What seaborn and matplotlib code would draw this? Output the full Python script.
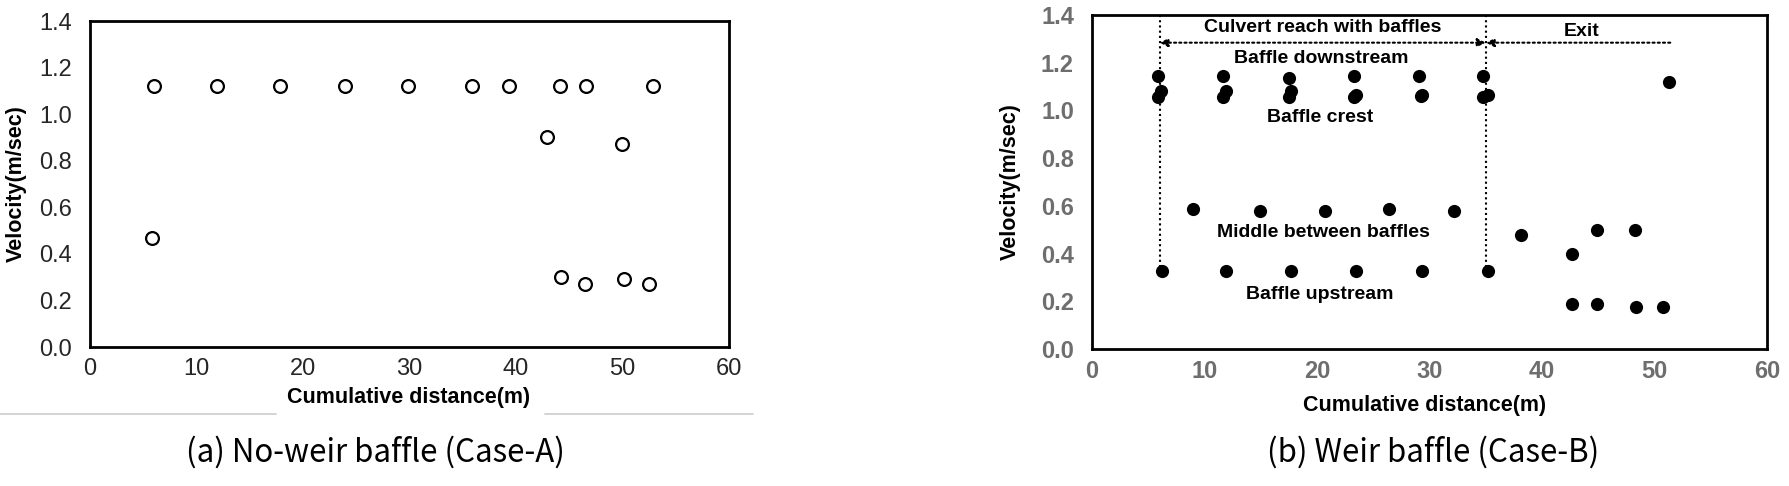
import pandas as pd
import matplotlib.pyplot as plt
import seaborn as sns
from matplotlib.lines import Line2D

sns.set_theme(style="white")
plt.rcParams['font.family'] = ['Liberation Sans', 'DejaVu Sans']

# Case-A: no-weir baffle (open circles)
a_dist = [6.0, 11.9, 17.8, 23.9, 29.9, 35.9, 39.3, 44.1, 46.6, 52.9,
          5.8, 42.9, 50.0, 44.2, 46.5, 50.1, 52.5]
a_vel = [1.12, 1.12, 1.12, 1.12, 1.12, 1.12, 1.12, 1.12, 1.12, 1.12,
         0.47, 0.90, 0.87, 0.30, 0.27, 0.29, 0.27]

# Case-B: weir baffle (filled circles)
b_down_x = [5.9, 11.6, 17.5, 23.3, 29.1, 34.8]
b_down_y = [1.145, 1.145, 1.138, 1.145, 1.145, 1.145]
b_crest_x = [5.9, 6.1, 11.6, 11.9, 17.5, 17.7, 23.3, 23.5, 29.2, 29.3, 34.8, 35.2]
b_crest_y = [1.055, 1.083, 1.055, 1.082, 1.058, 1.082, 1.058, 1.065, 1.061, 1.065, 1.055, 1.065]
b_mid_x = [9.0, 14.9, 20.7, 26.4, 32.2]
b_mid_y = [0.588, 0.579, 0.579, 0.588, 0.579]
b_up_x = [6.2, 11.9, 17.7, 23.5, 29.3, 35.2]
b_up_y = [0.328, 0.328, 0.328, 0.328, 0.328, 0.328]
b_exit_x = [38.1, 42.7, 44.9, 48.3, 51.3, 42.7, 44.9, 48.4, 50.8]
b_exit_y = [0.476, 0.399, 0.498, 0.498, 1.12, 0.19, 0.19, 0.177, 0.177]

x_ticks = [0, 10, 20, 30, 40, 50, 60]
y_ticks = [0.0, 0.2, 0.4, 0.6, 0.8, 1.0, 1.2, 1.4]

reach_start, reach_end, exit_end = 6.0, 35.0, 51.4

df_a = pd.DataFrame({"dist": a_dist, "vel": a_vel})
df_b = pd.DataFrame({
    "dist": b_down_x + b_crest_x + b_mid_x + b_up_x + b_exit_x,
    "vel": b_down_y + b_crest_y + b_mid_y + b_up_y + b_exit_y,
})

W, H = 1790, 486
fig = plt.figure(figsize=(W / 100, H / 100), dpi=100)
ax1 = fig.add_axes([90 / W, 1 - 347 / H, 639 / W, 326 / H])
ax2 = fig.add_axes([1092 / W, 1 - 349 / H, 675 / W, 334 / H])

sns.scatterplot(data=df_a, x="dist", y="vel", ax=ax1, s=85, marker="o",
                facecolor="white", edgecolor="black", linewidth=1.6)
sns.scatterplot(data=df_b, x="dist", y="vel", ax=ax2, s=90, marker="o",
                color="black", edgecolor="black", linewidth=0)

TICK_FS = 17
for ax in (ax1, ax2):
    ax.set_xlim(0, 60)
    ax.set_ylim(0, 1.4)
    ax.set_xticks(x_ticks)
    ax.set_xticklabels([str(v) for v in x_ticks], fontsize=TICK_FS)
    ax.set_yticks(y_ticks)
    ax.set_yticklabels([f"{v:.1f}" for v in y_ticks], fontsize=TICK_FS)
    for sp in ax.spines.values():
        sp.set_visible(True)
        sp.set_color("black")
        sp.set_linewidth(2)
    ax.tick_params(axis="y", length=0, pad=13)
    ax.tick_params(axis="x", length=4, width=1, direction="out", pad=4, color="#888888")
    ax.set_xlabel("Cumulative distance(m)", fontsize=15.5, fontweight="bold", color="black")
    ax.set_ylabel("Velocity(m/sec)", fontsize=15.5, fontweight="bold", color="black")
    ax.xaxis.label.set_va("center")
    ax.yaxis.label.set_va("center")

ax1.xaxis.set_label_coords(0.498, -0.156)
ax1.yaxis.set_label_coords(-0.116, 0.5)
ax2.xaxis.set_label_coords(0.493, -0.168)
ax2.yaxis.set_label_coords(-0.121, 0.5)

for lab in ax2.get_xticklabels() + ax2.get_yticklabels():
    lab.set_color("#6e6e6e")
    lab.set_fontweight("bold")
ax2.tick_params(axis="x", length=0, pad=8)

# annotations on Case-B
arrow_y = 1.284
for xv in (reach_start, reach_end):
    ax2.plot([xv, xv], [1.4, 0.35], color="black", lw=1.5, ls=(0, (1, 1.5)))
ax2.annotate("", xy=(reach_start, arrow_y), xytext=(reach_end, arrow_y),
             arrowprops=dict(arrowstyle="<|-|>", color="black", lw=1.5,
                             ls=(0, (1, 1.5)), mutation_scale=12, shrinkA=0, shrinkB=0))
ax2.annotate("", xy=(reach_end, arrow_y), xytext=(exit_end, arrow_y),
             arrowprops=dict(arrowstyle="-|>", color="black", lw=1.5,
                             ls=(0, (1, 1.5)), mutation_scale=12, shrinkA=0, shrinkB=0))

txt = dict(ha="center", va="center", fontsize=14, fontweight="bold", color="black")
ax2.text(20.5, 1.348, "Culvert reach with baffles", **txt)
ax2.text(43.5, 1.33, "Exit", **txt)
ax2.text(20.4, 1.219, "Baffle downstream", **txt)
ax2.text(20.25, 0.972, "Baffle crest", **txt)
ax2.text(20.6, 0.49, "Middle between baffles", **txt)
ax2.text(20.2, 0.228, "Baffle upstream", **txt)

# captions
cap = dict(ha="center", va="center", fontsize=22.5, fontweight="light",
           family=["Noto Sans CJK KR", "DejaVu Sans"], color="black")
fig.text(375 / W, 1 - 452 / H, "(a) No-weir baffle (Case-A)", **cap)
fig.text(1433 / W, 1 - 452 / H, "(b) Weir baffle (Case-B)", **cap)

# thin frame remnant under panel (a)
yline = 1 - 414 / H
fig.add_artist(Line2D([0, 276 / W], [yline, yline], color="#cccccc", lw=1.2))
fig.add_artist(Line2D([545 / W, 753 / W], [yline, yline], color="#cccccc", lw=1.2))

fig.savefig("out.png", dpi=100)
